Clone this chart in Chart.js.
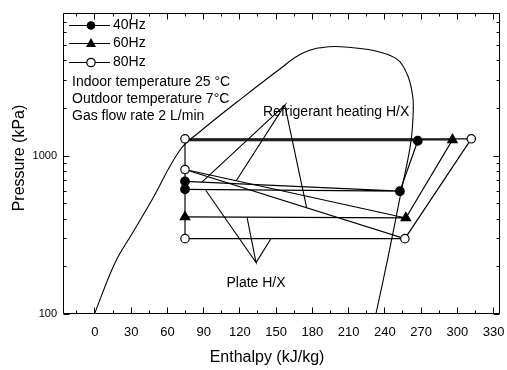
<!DOCTYPE html>
<html><head><meta charset="utf-8">
<script src="https://cdn.jsdelivr.net/npm/chart.js@4/dist/chart.umd.min.js"></script>
<style>html,body{margin:0;padding:0;background:#fff;}#wrap{width:507px;height:370px;}</style>
</head><body><div id="wrap"><canvas id="c" width="507" height="370"></canvas></div>
<script>
// ---------- data ----------
const seriesNames = ['40Hz', '60Hz', '80Hz'];
const conditionText = ['Indoor temperature 25 \u00B0C', 'Outdoor temperature 7\u00B0C', 'Gas flow rate 2 L/min'];
const xTitle = 'Enthalpy (kJ/kg)';
const yTitle = 'Pressure (kPa)';
const xTickLabels = [0, 30, 60, 90, 120, 150, 180, 210, 240, 270, 300, 330];
const xMinorTicks = [-15, 15, 45, 75, 105, 135, 165, 195, 225, 255, 285, 315];
const yTickLabels = [100, 1000];
const yMinorTicks = [200, 300, 400, 500, 600, 700, 800, 900, 2000, 3000, 4000, 5000, 6000, 7000, 8000];

// saturation dome (enthalpy kJ/kg, pressure kPa)
const domeH = [0, 17, 31, 47, 71, 87, 118, 153, 173, 194, 214, 235, 251, 259, 263, 264, 262, 254, 243, 233];
const domeP = [100, 210, 320, 515, 1090, 1410, 2180, 3500, 4470, 4870, 4800, 4530, 4040, 3250, 2510, 2020, 1220, 596, 227, 100];

// cycle lines (null = break)
const line40H = [75, 267.7, 252.9, 75, null, 75, 252.9];
const line40P = [1241, 1241, 596, 613, null, 688, 596];
const line60H = [75, 296.4, 257.8, 75, null, 75, 257.8];
const line60P = [1259, 1259, 404, 410, null, 817, 404];
const line80H = [75, 257, 75, 75, 312, 257];
const line80P = [817, 299, 299, 1277, 1277, 299];

// cycle state points (markers)
const mark40H = [75, 75, 267.7, 252.9];
const mark40P = [688, 613, 1241, 596];
const mark60H = [75, 296.4, 257.8];
const mark60P = [410, 1259, 404];
const mark80H = [75, 75, 75, 312, 257];
const mark80P = [1277, 817, 299, 1277, 299];

// heat exchanger lines
const refHxLabel = 'Refrigerant heating H/X';
const refHxH = [89, 157.6, 117.4, null, 157.6, 175.7];
const refHxP = [680, 2084, 694, null, 2084, 468];
const plateHxLabel = 'Plate H/X';
const plateHxH = [92, 133.8, 126.4, null, 133.8, 146.1];
const plateHxP = [607, 211, 406, null, 211, 299];

// ---------- helpers ----------
const pts = (hs, ps) => hs.map((h, i) => ({x: h, y: h === null ? null : ps[i]}));
const FONT = '"Liberation Sans", Arial, Helvetica, sans-serif';

const lineDs = (hs, ps, w, extra) => Object.assign({
  type: 'line', data: pts(hs, ps), borderColor: '#000', borderWidth: w || 1.1,
  pointRadius: 0, fill: false, tension: 0, spanGaps: false
}, extra || {});
const markDs = (hs, ps, style, bg, r) => ({
  type: 'scatter', data: pts(hs, ps), showLine: false, pointStyle: style,
  pointRadius: r, pointBackgroundColor: bg, pointBorderColor: '#000', pointBorderWidth: 1.2
});

function drawMarker(ctx, kind, x, y) {
  ctx.save();
  ctx.lineWidth = 1.2; ctx.strokeStyle = '#000';
  if (kind === 0) { ctx.beginPath(); ctx.arc(x, y, 4.3, 0, Math.PI * 2); ctx.fillStyle = '#000'; ctx.fill(); }
  else if (kind === 1) { ctx.beginPath(); ctx.moveTo(x, y - 5.5); ctx.lineTo(x + 5, y + 3.5); ctx.lineTo(x - 5, y + 3.5); ctx.closePath(); ctx.fillStyle = '#000'; ctx.fill(); }
  else { ctx.beginPath(); ctx.arc(x, y, 4.2, 0, Math.PI * 2); ctx.fillStyle = '#fff'; ctx.fill(); ctx.stroke(); }
  ctx.restore();
}

const decorPlugin = {
  id: 'decor',
  afterDraw(chart) {
    const {ctx, chartArea: {left, right, top, bottom}, scales: {x, y}} = chart;
    ctx.save();
    ctx.strokeStyle = '#000'; ctx.lineWidth = 1;
    const L = Math.round(left) + 0.5, R = Math.round(right) - 0.5, T = Math.round(top) + 0.5, B = Math.round(bottom) - 0.5;
    ctx.beginPath();
    ctx.moveTo(L, T); ctx.lineTo(R, T); ctx.lineTo(R, B); ctx.lineTo(L, B); ctx.closePath();
    ctx.stroke();
    // inward ticks
    ctx.beginPath();
    x.ticks.forEach(t => {
      const px = Math.round(x.getPixelForValue(t.value)) + 0.5;
      const len = xTickLabels.includes(t.value) ? 6 : 3;
      ctx.moveTo(px, B); ctx.lineTo(px, B - len);
      ctx.moveTo(px, T); ctx.lineTo(px, T + len);
    });
    y.ticks.forEach(t => {
      const py = Math.round(y.getPixelForValue(t.value)) + 0.5;
      const len = yTickLabels.includes(t.value) ? 6 : 3;
      ctx.moveTo(L, py); ctx.lineTo(L + len, py);
      ctx.moveTo(R, py); ctx.lineTo(R - len, py);
    });
    ctx.stroke();

    ctx.fillStyle = '#000';
    ctx.textBaseline = 'middle';
    // x tick labels
    ctx.font = '13px ' + FONT;
    ctx.textAlign = 'center';
    xTickLabels.forEach(v => ctx.fillText(String(v), x.getPixelForValue(v) + 0.5, bottom + 18));

    // legend
    ctx.font = '14px ' + FONT;
    ctx.textAlign = 'left';
    const rows = [25, 43, 62];
    seriesNames.forEach((name, i) => {
      const yy = rows[i] + 0.5;
      ctx.beginPath(); ctx.moveTo(69, yy); ctx.lineTo(110, yy); ctx.lineWidth = 1.2; ctx.stroke();
      drawMarker(ctx, i, 91, yy);
      ctx.fillText(name, 113, rows[i]);
    });
    // conditions
    const cRows = [82, 99, 116];
    conditionText.forEach((t, i) => ctx.fillText(t, 72, cRows[i]));
    // annotations
    ctx.fillText(refHxLabel, 263, 112);
    ctx.textAlign = 'center';
    ctx.fillText(plateHxLabel, 256, 283);

    // axis titles
    ctx.font = '16px ' + FONT;
    ctx.fillText(xTitle, 267, 358);
    ctx.save();
    ctx.translate(20, 158);
    ctx.rotate(-Math.PI / 2);
    ctx.fillText(yTitle, 0, 0);
    ctx.restore();
    ctx.restore();
  }
};

new Chart(document.getElementById('c'), {
  type: 'line',
  data: {
    datasets: [
      markDs(mark80H, mark80P, 'circle', '#fff', 4.2),
      markDs(mark40H, mark40P, 'circle', '#000', 4.3),
      markDs(mark60H, mark60P, 'triangle', '#000', 5.5),
      lineDs(line80H, line80P, 1.2),
      lineDs(line60H, line60P, 1.2),
      lineDs(line40H, line40P, 1.2),
      lineDs(refHxH, refHxP, 1.1),
      lineDs(plateHxH, plateHxP, 1.1),
      lineDs(domeH, domeP, 1.1, {tension: 0.4})
    ]
  },
  options: {
    responsive: false, animation: false, devicePixelRatio: 1,
    layout: {padding: {left: 0, right: 3, top: 10, bottom: 0}},
    plugins: {legend: {display: false}, tooltip: {enabled: false}},
    scales: {
      x: {
        type: 'linear', min: -26, max: 336,
        grid: {display: false, drawTicks: false},
        border: {display: false},
        afterBuildTicks: s => { s.ticks = xMinorTicks.concat(xTickLabels).sort((a, b) => a - b).map(v => ({value: v})); },
        afterFit: s => { s.height = 56; },
        ticks: {display: false}
      },
      y: {
        type: 'logarithmic', min: 100, max: 8000,
        grid: {display: false, drawTicks: false},
        border: {display: false},
        afterBuildTicks: s => { s.ticks = yTickLabels.concat(yMinorTicks).sort((a, b) => a - b).map(v => ({value: v})); },
        afterFit: s => { s.width = 63; },
        ticks: {
          autoSkip: false, padding: 6, color: '#000',
          font: {family: FONT, size: 11},
          callback: v => yTickLabels.includes(v) ? String(v) : ''
        }
      }
    }
  },
  plugins: [decorPlugin]
});
</script></body></html>
